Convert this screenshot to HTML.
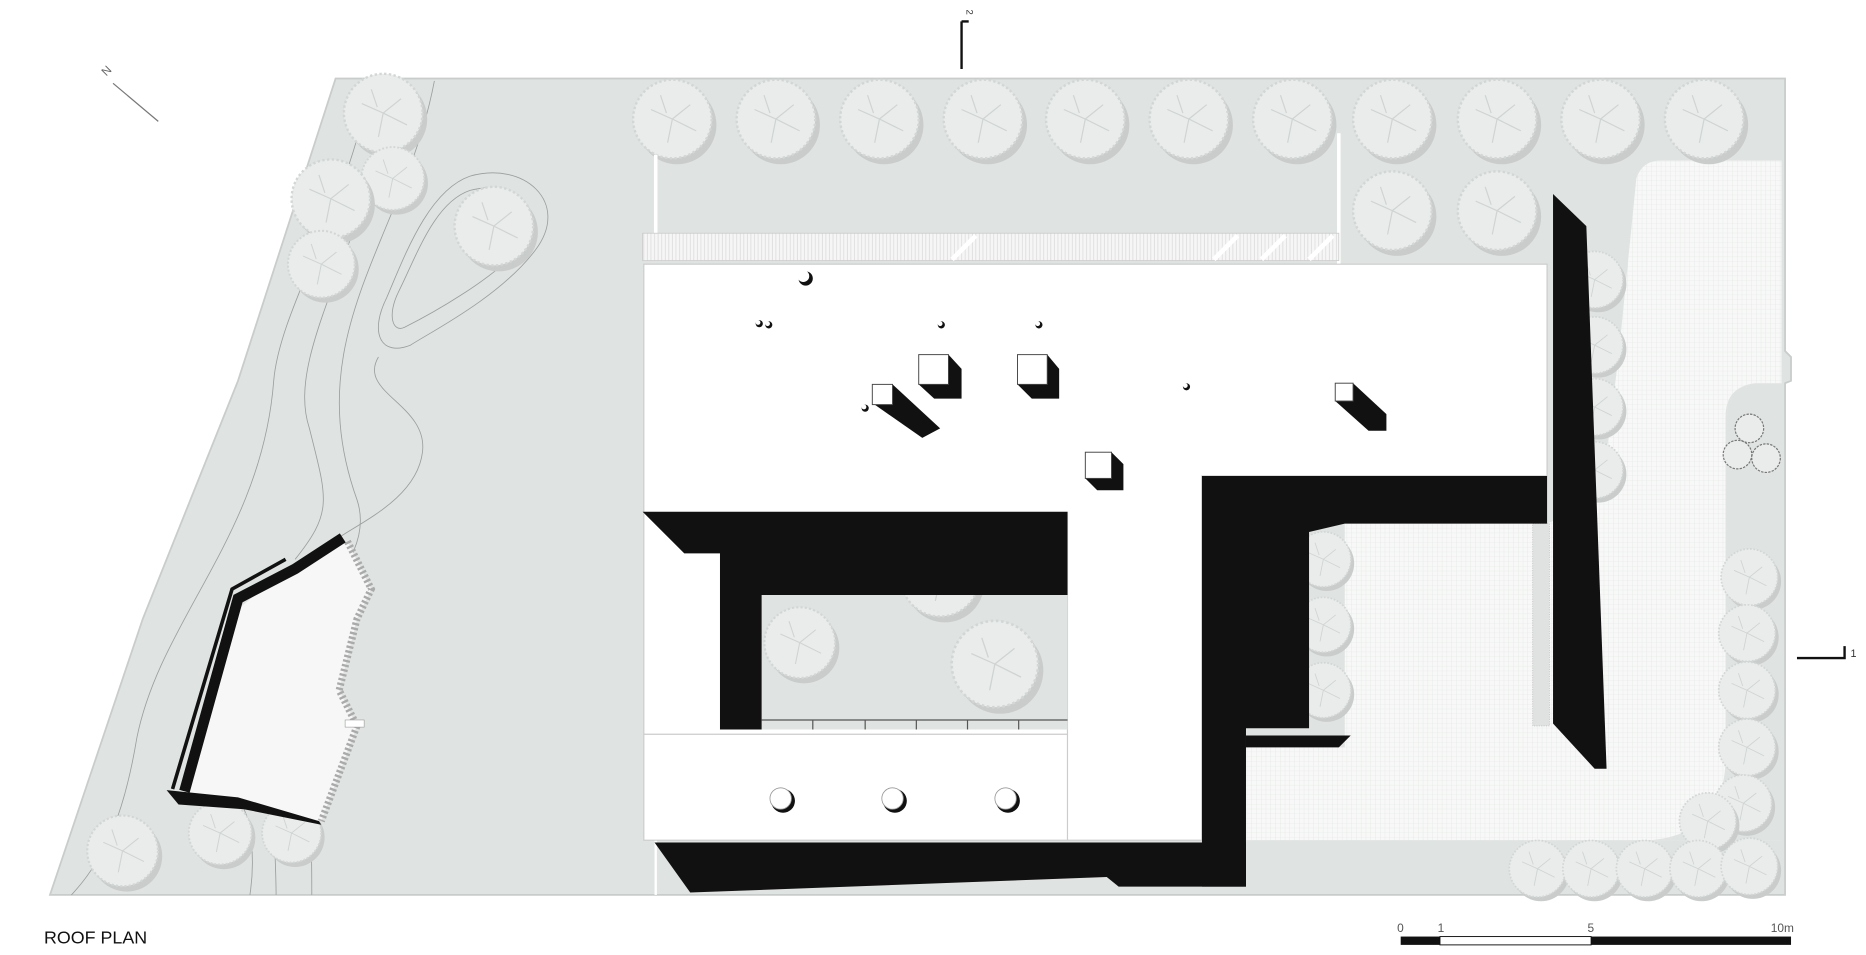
<!DOCTYPE html>
<html><head><meta charset="utf-8"><style>
html,body{margin:0;padding:0;background:#fff;}
svg{display:block}
text{font-family:"Liberation Sans",sans-serif;}
</style></head><body>
<svg width="1866" height="955" viewBox="0 0 1568 802.5" preserveAspectRatio="none" xmlns="http://www.w3.org/2000/svg">
<defs>
<pattern id="grid" width="4" height="4" patternUnits="userSpaceOnUse"><rect width="4" height="4" fill="#f7f8f7"/><path d="M4 0V4M0 4H4" stroke="#e2e4e3" stroke-width="0.5"/></pattern>
<pattern id="hatch" width="3" height="10" patternUnits="userSpaceOnUse"><rect width="3" height="10" fill="#f6f6f6"/><path d="M1 0V10" stroke="#d8d8d8" stroke-width="0.6"/></pattern>
<g id="tree"><circle cx="4" cy="5" r="33" fill="#c9cccb"/><circle cx="0" cy="0" r="33" fill="#e9eceb" stroke="#d2d6d5" stroke-width="2" stroke-dasharray="2 2"/><path d="M-18 -8 L0 0 L15 -12 M0 0 L-4 20 M0 0 L20 10 M-10 -20 L-5 -5" stroke="#cfd3d2" fill="none"/></g>
</defs>
<rect width="1568" height="803" fill="#fff"/>
<!-- site -->
<path d="M282,66 L1500,66 L1500,295 L1505,300 L1505,320 L1500,322 L1500,752 L42,752 L120,520 L200,320 Z" fill="#dfe3e1" stroke="#c8cccb" stroke-width="1.5"/>
<!-- contours -->
<g fill="none" stroke="#9a9e9d" stroke-width="0.7">
<path d="M365,68 C340,200 250,280 300,420 C320,480 230,520 230,600 C228,680 232,720 232,752"/>
<path d="M335,68 C300,220 240,300 260,360 C275,420 280,430 248,470"/>
<path d="M312,68 C290,180 235,260 230,320 C220,450 135,520 115,620 C105,680 90,720 60,752"/>
<path d="M395,148 C440,135 480,170 450,210 C420,250 360,280 345,290 C320,300 310,280 325,250 C340,215 360,160 395,148 Z"/>
<path d="M395,160 C430,150 460,180 440,205 C415,235 360,265 340,275 C330,280 325,265 335,245 C350,215 365,170 395,160 Z"/>
<path d="M318,300 C300,330 360,340 355,380 C350,420 300,440 280,455"/>
<path d="M210,752 C215,720 210,690 205,680 M262,752 C262,720 262,700 258,690"/>
</g>
<!-- paving -->
<path d="M1395,135 L1497,135 L1497,706 L1047,706 L1047,628 L1130,628 L1130,440 L1300,440 L1345,420 L1360,300 L1375,150 Q1380,135 1395,135 Z" fill="url(#grid)"/>
<path d="M1497,322 L1475,322 Q1450,325 1450,350 L1450,640 Q1448,700 1388,706 L1497,706 Z" fill="#dfe3e1"/>
<rect x="1288" y="440" width="14" height="170" fill="#e0e2e1" stroke="#b5b8b7" stroke-width="0.5" stroke-dasharray="1 1"/>
<!-- trees top -->
<g>
<use href="#tree" x="565" y="100"/><use href="#tree" x="652" y="100"/><use href="#tree" x="739" y="100"/><use href="#tree" x="826" y="100"/><use href="#tree" x="912" y="100"/><use href="#tree" x="999" y="100"/><use href="#tree" x="1086" y="100"/><use href="#tree" x="1170" y="100"/><use href="#tree" x="1258" y="100"/><use href="#tree" x="1345" y="100"/><use href="#tree" x="1432" y="100"/>
<use href="#tree" x="1170" y="177"/><use href="#tree" x="1258" y="177"/>
<use href="#tree" x="322" y="95"/><use href="#tree" x="330" y="150" transform="translate(330 150) scale(.8) translate(-330 -150)"/>
<use href="#tree" x="278" y="167"/><use href="#tree" x="270" y="222" transform="translate(270 222) scale(.85) translate(-270 -222)"/>
<use href="#tree" x="415" y="190"/>
<use href="#tree" x="103" y="715" transform="translate(103 715) scale(.9) translate(-103 -715)"/>
<use href="#tree" x="185" y="700" transform="translate(185 700) scale(.8) translate(-185 -700)"/>
<use href="#tree" x="245" y="700" transform="translate(245 700) scale(.75) translate(-245 -700)"/>
</g>
<g transform="translate(0 0)">
<use href="#tree" x="1340" y="235" transform="translate(1340 235) scale(.72) translate(-1340 -235)"/>
<use href="#tree" x="1340" y="290" transform="translate(1340 290) scale(.72) translate(-1340 -290)"/>
<use href="#tree" x="1340" y="342" transform="translate(1340 342) scale(.72) translate(-1340 -342)"/>
<use href="#tree" x="1340" y="395" transform="translate(1340 395) scale(.72) translate(-1340 -395)"/>
<use href="#tree" x="1470" y="485" transform="translate(1470 485) scale(.72) translate(-1470 -485)"/>
<use href="#tree" x="1468" y="532" transform="translate(1468 532) scale(.72) translate(-1468 -532)"/>
<use href="#tree" x="1468" y="580" transform="translate(1468 580) scale(.72) translate(-1468 -580)"/>
<use href="#tree" x="1468" y="628" transform="translate(1468 628) scale(.72) translate(-1468 -628)"/>
<use href="#tree" x="1465" y="675" transform="translate(1465 675) scale(.72) translate(-1465 -675)"/>
<use href="#tree" x="1435" y="690" transform="translate(1435 690) scale(.72) translate(-1435 -690)"/>
<use href="#tree" x="1292" y="730" transform="translate(1292 730) scale(.72) translate(-1292 -730)"/>
<use href="#tree" x="1337" y="730" transform="translate(1337 730) scale(.72) translate(-1337 -730)"/>
<use href="#tree" x="1382" y="730" transform="translate(1382 730) scale(.72) translate(-1382 -730)"/>
<use href="#tree" x="1427" y="730" transform="translate(1427 730) scale(.72) translate(-1427 -730)"/>
<use href="#tree" x="1470" y="728" transform="translate(1470 728) scale(.72) translate(-1470 -728)"/>
<use href="#tree" x="1112" y="470" transform="translate(1112 470) scale(.7) translate(-1112 -470)"/>
<use href="#tree" x="1112" y="525" transform="translate(1112 525) scale(.7) translate(-1112 -525)"/>
<use href="#tree" x="1112" y="580" transform="translate(1112 580) scale(.7) translate(-1112 -580)"/>
</g>
<circle cx="1470" cy="360" r="12" fill="#e9eceb" stroke="#777" stroke-dasharray="2 1"/>
<circle cx="1460" cy="382" r="12" fill="#e9eceb" stroke="#777" stroke-dasharray="2 1"/>
<circle cx="1484" cy="385" r="12" fill="#e9eceb" stroke="#777" stroke-dasharray="2 1"/>
<!-- site lines -->
<path d="M551,130 V196" stroke="#fff" stroke-width="3"/>
<path d="M1125,112 V222" stroke="#fff" stroke-width="3"/>
<path d="M551,705 V752" stroke="#fff" stroke-width="2"/>
<!-- hatched strip -->
<rect x="540" y="196" width="585" height="23" fill="url(#hatch)" stroke="#ccc" stroke-width="0.7"/>
<path d="M800,218 L820,198 M1020,218 L1040,198 M1060,218 L1080,198 M1100,218 L1120,198" stroke="#fff" stroke-width="4"/>
<!-- building roof -->
<path d="M541,222 L1300,222 L1300,400 L1010,400 L1010,706 L541,706 Z" fill="#fff" stroke="#ccc" stroke-width="1"/>
<path d="M897,430 V706 M541,617 H897" stroke="#ccc" stroke-width="1"/>
<!-- courtyard -->
<rect x="640" y="500" width="257" height="113" fill="#dfe3e1"/>
<use href="#tree" x="836" y="558" transform="translate(836 558) scale(1.1) translate(-836 -558)"/>
<use href="#tree" x="672" y="540" transform="translate(672 540) scale(.9) translate(-672 -540)"/>
<use href="#tree" x="790" y="485"/>
<path d="M540,430 L897,430 L897,500 L640,500 L640,613 L605,613 L605,465 L575,465 Z" fill="#111"/>
<path d="M640,605 H897 M683,605v8 M727,605v8 M770,605v8 M813,605v8 M856,605v8" stroke="#555" stroke-width="1"/>
<circle cx="658" cy="673" r="10" fill="#111"/><circle cx="656" cy="671" r="9" fill="#fff" stroke="#999" stroke-width="0.7"/>
<circle cx="752" cy="673" r="10" fill="#111"/><circle cx="750" cy="671" r="9" fill="#fff" stroke="#999" stroke-width="0.7"/>
<circle cx="847" cy="673" r="10" fill="#111"/><circle cx="845" cy="671" r="9" fill="#fff" stroke="#999" stroke-width="0.7"/>
<!-- black L right -->
<path d="M1010,400 L1300,400 L1300,440 L1130,440 L1100,447 L1100,612 L1047,612 L1047,745 L1010,745 Z" fill="#111"/>
<path d="M1047,618 L1135,618 L1125,628 L1047,628 Z" fill="#111"/>
<path d="M550,708 L1047,708 L1047,745 L940,745 L930,737 L580,750 Z" fill="#111"/>
<!-- blade -->
<path d="M1305,163 L1333,190 L1350,646 L1340,646 L1305,608 Z" fill="#111"/>
<!-- roof objects -->
<g fill="#111">
<path d="M797,298 L808,310 L808,335 L785,335 L772,323 Z"/>
<path d="M880,298 L890,310 L890,335 L867,335 L855,323 Z"/>
<path d="M750,323 L790,360 L775,368 L735,340 Z"/>
<path d="M934,380 L944,390 L944,412 L922,412 L912,402 Z"/>
<path d="M1137,322 L1165,348 L1165,362 L1150,362 L1122,337 Z"/>
</g>
<g fill="#fff" stroke="#444" stroke-width="0.8">
<rect x="772" y="298" width="25" height="25"/><rect x="855" y="298" width="25" height="25"/>
<rect x="733" y="323" width="17" height="17"/><rect x="912" y="380" width="22" height="22"/><rect x="1122" y="322" width="15" height="15"/>
</g>
<g fill="#111"><circle cx="677" cy="234" r="6"/><circle cx="638" cy="272" r="3"/><circle cx="646" cy="273" r="3"/><circle cx="791" cy="273" r="3"/><circle cx="873" cy="273" r="3"/><circle cx="727" cy="343" r="3"/><circle cx="997" cy="325" r="3"/></g>
<g fill="#fff"><circle cx="675" cy="232" r="5"/><circle cx="637" cy="271" r="2"/><circle cx="645" cy="272" r="2"/><circle cx="790" cy="272" r="2"/><circle cx="872" cy="272" r="2"/><circle cx="726" cy="342" r="2"/><circle cx="996" cy="324" r="2"/></g>
<!-- pond -->
<path d="M245,475 L292,455 L312,495 L300,520 L285,580 L300,610 L285,650 L270,690 L205,675 L150,668 L190,520 Z" fill="#f6f7f6"/>
<path d="M292,455 L312,495 L300,520 L285,580 L300,610 L285,650 L270,690" fill="none" stroke="#aaa" stroke-width="6" stroke-dasharray="2 2"/>
<path d="M288,452 L248,478 L200,503 L155,665" fill="none" stroke="#111" stroke-width="9"/>
<path d="M240,470 L195,495 L145,663" fill="none" stroke="#111" stroke-width="3"/>
<path d="M140,664 L200,670 L268,690 L270,693 L205,680 L150,676 Z" fill="#111"/>
<rect x="290" y="605" width="16" height="6" fill="#fff" stroke="#999" stroke-width="0.5"/>
<!-- north arrow -->
<path d="M95,70 L133,102" stroke="#777" stroke-width="1"/>
<text x="85" y="62" font-size="10" fill="#666" transform="rotate(-45 90 58)">N</text>
<!-- section markers -->
<path d="M808,18 V58 M808,18 H814" stroke="#111" stroke-width="2" fill="none"/>
<text x="810" y="10" font-size="8" fill="#333" transform="rotate(90 812 10)">2</text>
<path d="M1510,553 H1550 V543" stroke="#111" stroke-width="2" fill="none"/>
<text x="1555" y="552" font-size="9" fill="#333">1</text>
<!-- title & scale -->
<text x="37" y="793" font-size="15" fill="#111">ROOF PLAN</text>
<rect x="1177" y="787" width="33" height="7" fill="#111"/>
<rect x="1210" y="787" width="127" height="7" fill="#fff" stroke="#111" stroke-width="0.8"/>
<rect x="1337" y="787" width="168" height="7" fill="#111"/>
<g font-size="10" fill="#555"><text x="1174" y="783">0</text><text x="1208" y="783">1</text><text x="1334" y="783">5</text><text x="1488" y="783">10m</text></g>
</svg>
</body></html>
